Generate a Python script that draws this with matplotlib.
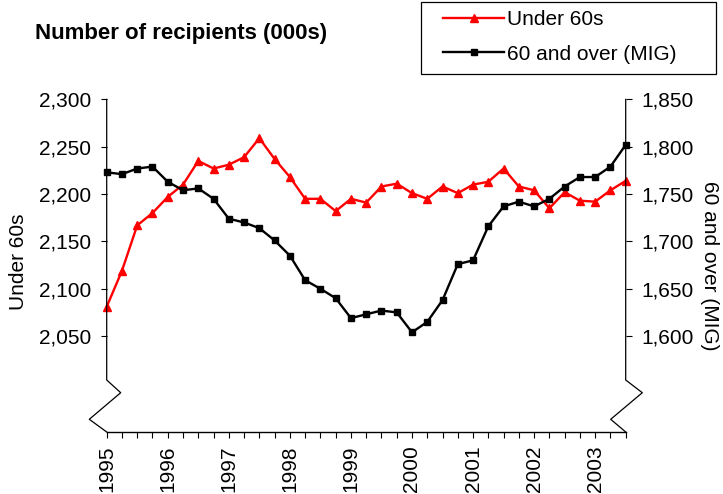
import matplotlib
matplotlib.use('Agg')
import matplotlib.pyplot as plt
from matplotlib.lines import Line2D
from matplotlib.patches import Rectangle
from matplotlib.ticker import FuncFormatter, MultipleLocator
import numpy as np

plt.rcParams['font.family'] = ['Liberation Sans', 'DejaVu Sans']

# ── Data: quarterly, 1995 Q1 .. 2003 Q3 (000s) ─────────────────────
years = [1995, 1996, 1997, 1998, 1999, 2000, 2001, 2002, 2003]
under_60s = [2081, 2119, 2167, 2180, 2197, 2210, 2235, 2227,
             2231, 2239, 2259, 2237, 2218, 2195, 2195, 2182,
             2195, 2191, 2208, 2211, 2201, 2195, 2208, 2201,
             2210, 2213, 2227, 2208, 2204, 2185, 2202, 2193,
             2192, 2204, 2214]
over_60_mig = [1773, 1771, 1777, 1779, 1763, 1754, 1756, 1745,
               1724, 1720, 1714, 1701, 1685, 1659, 1650, 1640,
               1619, 1623, 1627, 1625, 1604, 1615, 1638, 1676,
               1680, 1716, 1737, 1742, 1737, 1745, 1758, 1768,
               1768, 1779, 1802]
left_ticks = [2050, 2100, 2150, 2200, 2250, 2300]
right_ticks = [1600, 1650, 1700, 1750, 1800, 1850]

quarters = np.arange(len(under_60s))

W, H = 723, 494
fig = plt.figure(figsize=(W / 100, H / 100), dpi=100)
fig.patch.set_facecolor('white')

# axes box in pixels (left, right, top, bottom)
L, R, T, B = 106.7, 625.7, 99.4, 432.0
ax = fig.add_axes([L / W, 1 - B / H, (R - L) / W, (B - T) / H])
ax2 = ax.twinx()

fs = 15
ax.plot(quarters, under_60s, color='#ff0000', lw=1.7, marker='^', ms=5.5,
        clip_on=False, zorder=3, label='Under 60s')
ax2.plot(quarters, over_60_mig, color='black', lw=1.7, marker='s', ms=4.2,
         clip_on=False, zorder=3, label='60 and over (MIG)')

ax.set_xlim(0, len(under_60s) - 1)
ax.set_ylim(1948.7, 2300)
ax2.set_ylim(1498.7, 1850)

comma = FuncFormatter(lambda v, p: f'{v:,.0f}')
ax.set_yticks(left_ticks)
ax2.set_yticks(right_ticks)
ax.yaxis.set_major_formatter(comma)
ax2.yaxis.set_major_formatter(comma)

ax.set_xticks(quarters[::4])
ax.set_xticklabels([str(y) for y in years], rotation=90, fontsize=fs)
ax.xaxis.set_minor_locator(MultipleLocator(1))

for a in (ax, ax2):
    for s in a.spines.values():
        s.set_visible(False)
    a.tick_params(axis='y', direction='out', length=4.5, width=0.8,
                  labelsize=fs, pad=6.5)
ax.spines['bottom'].set_visible(True)
ax.spines['bottom'].set_linewidth(1.0)
ax.tick_params(axis='x', which='both', direction='out', length=4.5,
               width=0.8, pad=5)

# ── Hand-drawn y spines with axis break ─────────────────────────────
def spine(x0, dx1, dx2):
    xs = np.array([x0, x0, x0 + dx1, x0 + dx2, x0])
    ys = np.array([T, 380.0, 392.7, 419.3, B])
    fig.add_artist(Line2D(xs / W, 1 - ys / H, color='black', lw=0.9))

spine(L, 14, -17.4)
spine(R, 16.6, -15)

# ── Labels ──────────────────────────────────────────────────────────
fig.text(19 / W, 1 - 262 / H, 'Under 60s', rotation=90, ha='center',
         va='center', fontsize=fs)
fig.text(710 / W, 1 - 266 / H, '60 and over (MIG)', rotation=270,
         ha='center', va='center', fontsize=fs)
fig.text(35 / W, 1 - 33 / H, 'Number of recipients (000s)',
         fontsize=16, fontweight='bold', ha='left', va='center')

# ── Legend with a square box ────────────────────────────────────────
fig.add_artist(Rectangle((421 / W, 1 - 74 / H), 295 / W, 72 / H,
                         transform=fig.transFigure, facecolor='white',
                         edgecolor='black', lw=0.9, zorder=4))
handles = ax.get_lines() + ax2.get_lines()
leg = fig.legend(handles=handles, loc='upper left',
                 bbox_to_anchor=(443 / W, 1 - 10 / H),
                 fontsize=fs, frameon=False, handlelength=2.95,
                 handletextpad=0.12, labelspacing=0.75, borderpad=0,
                 borderaxespad=0)
leg.set_zorder(5)

fig.savefig('out.png', dpi=100, facecolor='white')
